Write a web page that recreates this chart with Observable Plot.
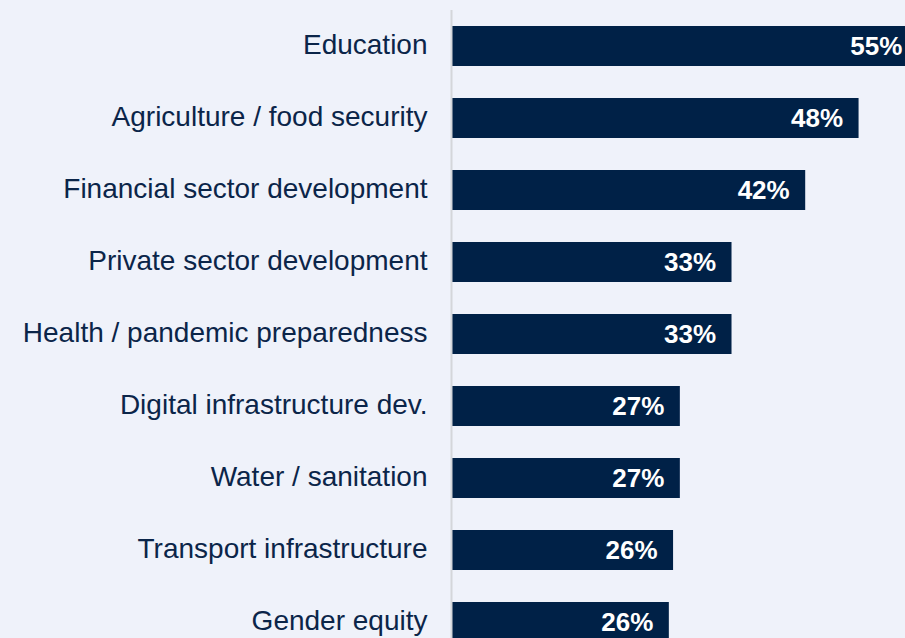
<!DOCTYPE html>
<html>
<head>
<meta charset="utf-8">
<script src="https://cdn.jsdelivr.net/npm/d3@7"></script>
<script src="https://cdn.jsdelivr.net/npm/@observablehq/plot@0.6"></script>
<style>
  html, body { margin: 0; padding: 0; background: #eff2fa; overflow: hidden; }
  #chart svg { display: block; }
</style>
</head>
<body>
<div id="chart"></div>
<script>
const categories = [
  "Education",
  "Agriculture / food security",
  "Financial sector development",
  "Private sector development",
  "Health / pandemic preparedness",
  "Digital infrastructure dev.",
  "Water / sanitation",
  "Transport infrastructure",
  "Gender equity"
];
const values = [55, 48, 41.7, 33, 33, 26.9, 26.9, 26.1, 25.6];
const valueLabels = ["55%", "48%", "42%", "33%", "33%", "27%", "27%", "26%", "26%"];

const data = categories.map((c, i) => ({category: c, value: values[i], label: valueLabels[i]}));

const navy = "#002147";
const textColor = "#0b2549";

const chart = Plot.plot({
  width: 905,
  height: 638,
  marginLeft: 452,
  marginRight: 0,
  marginTop: 10,
  marginBottom: 0,
  style: {background: "#eff2fa", fontFamily: "Liberation Sans, Arial, sans-serif", overflow: "hidden"},
  x: {domain: [0, 453 / 8.47], axis: null},
  y: {domain: categories, range: [25.5, 642.5], paddingInner: 0.445, paddingOuter: 0, label: null},
  marks: [
    Plot.barX(data, {x: "value", y: "category", fill: navy}),
    Plot.ruleX([0], {stroke: "#d4d6da", strokeWidth: 2, dx: -1}),
    Plot.text(data, {x: "value", y: "category", text: "label", textAnchor: "end", dx: -16, dy: 0,
      fill: "white", fontWeight: "bold", fontSize: 26}),
    Plot.axisY({tickSize: 0, tickPadding: 25, fontSize: 28, dy: -1, color: textColor, label: null})
  ]
});
document.getElementById("chart").appendChild(chart);
</script>
</body>
</html>
